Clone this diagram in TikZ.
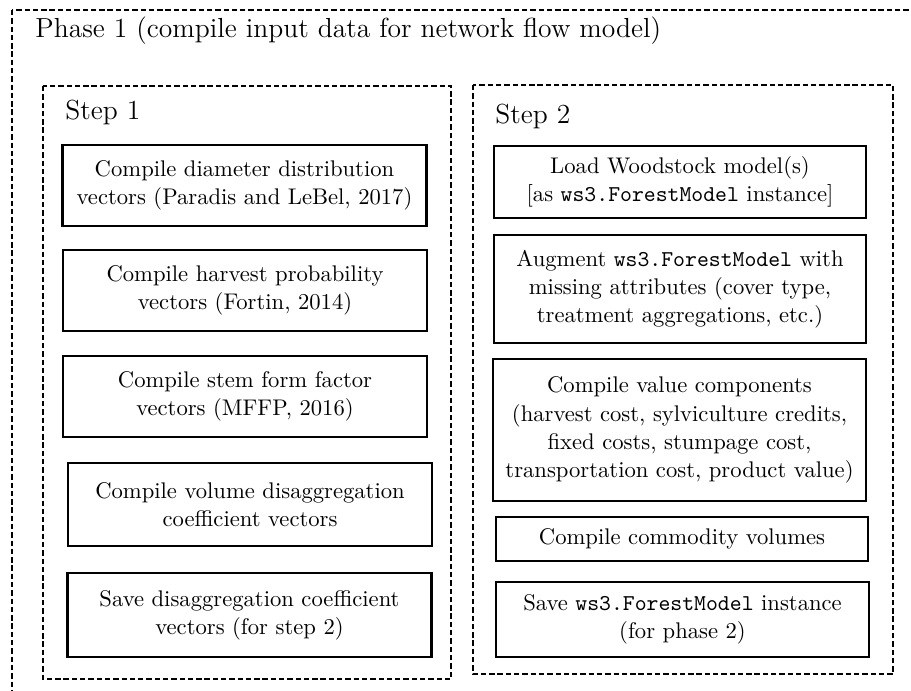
\documentclass[tikz,border=0pt]{standalone}
\usepackage{tikz}

\begin{document}
\begin{tikzpicture}[x=0.01569cm,y=-0.01569cm,
    grp/.style={line width=0.95pt,dash pattern=on 2.4pt off 1.3pt},
    task/.style={draw,line width=0.95pt,align=center,inner sep=2pt,font=\fontsize{10.1}{12.6}\selectfont}]
      \useasboundingbox (0,0) rectangle (911,691);
      % outer phase frame and the two step frames
      \draw[grp] (12,10) rectangle (940,720);
      \draw[grp] (43,86) rectangle (451,679);
      \draw[grp] (473,85) rectangle (893,674);
      \node[anchor=base west,inner sep=0pt,font=\fontsize{12.3}{15}\selectfont] (phase) at (35,38) {Phase 1 (compile input data for network flow model)};
      \node[anchor=base west,inner sep=0pt,font=\fontsize{12.3}{15}\selectfont] (stepone) at (65,120) {Step 1};
      \node[anchor=base west,inner sep=0pt,font=\fontsize{12.3}{15}\selectfont] (steptwo) at (495,124) {Step 2};
      % step 1
      \node[task,minimum width=5.71cm,minimum height=1.27cm] (diam) at (244.5,185.5) {Compile diameter distribution\\vectors (Paradis and LeBel, 2017)};
      \node[task,minimum width=5.71cm,minimum height=1.27cm] (harv) at (245,290.5) {Compile harvest probability\\vectors (Fortin, 2014)};
      \node[task,minimum width=5.71cm,minimum height=1.27cm] (stem) at (245,396.5) {Compile stem form factor\\vectors (MFFP, 2016)};
      \node[task,minimum width=5.71cm,minimum height=1.30cm] (vold) at (250,504.5) {Compile volume disaggregation\\coefficient vectors};
      \node[task,minimum width=5.71cm,minimum height=1.32cm] (savec) at (249.5,615) {Save disaggregation coefficient\\vectors (for step 2)};
      % step 2
      \node[task,minimum width=5.84cm,minimum height=1.13cm] (load) at (680,182) {Load Woodstock model(s)\\{[}as \texttt{ws3.ForestModel} instance{]}};
      \node[task,minimum width=5.84cm,minimum height=1.69cm] (augm) at (680,289) {Augment \texttt{ws3.ForestModel} with\\missing attributes (cover type,\\treatment aggregations, etc.)};
      \node[task,minimum width=5.84cm,minimum height=2.23cm] (valc) at (679.5,430) {Compile value components\\(harvest cost, sylviculture credits,\\fixed costs, stumpage cost,\\transportation cost, product value)};
      \node[task,minimum width=5.84cm,minimum height=0.69cm] (comm) at (682,539) {Compile commodity volumes};
      \node[task,minimum width=5.84cm,minimum height=1.18cm] (savem) at (682.5,619.5) {Save \texttt{ws3.ForestModel} instance\\(for phase 2)};
\end{tikzpicture}
\end{document}
